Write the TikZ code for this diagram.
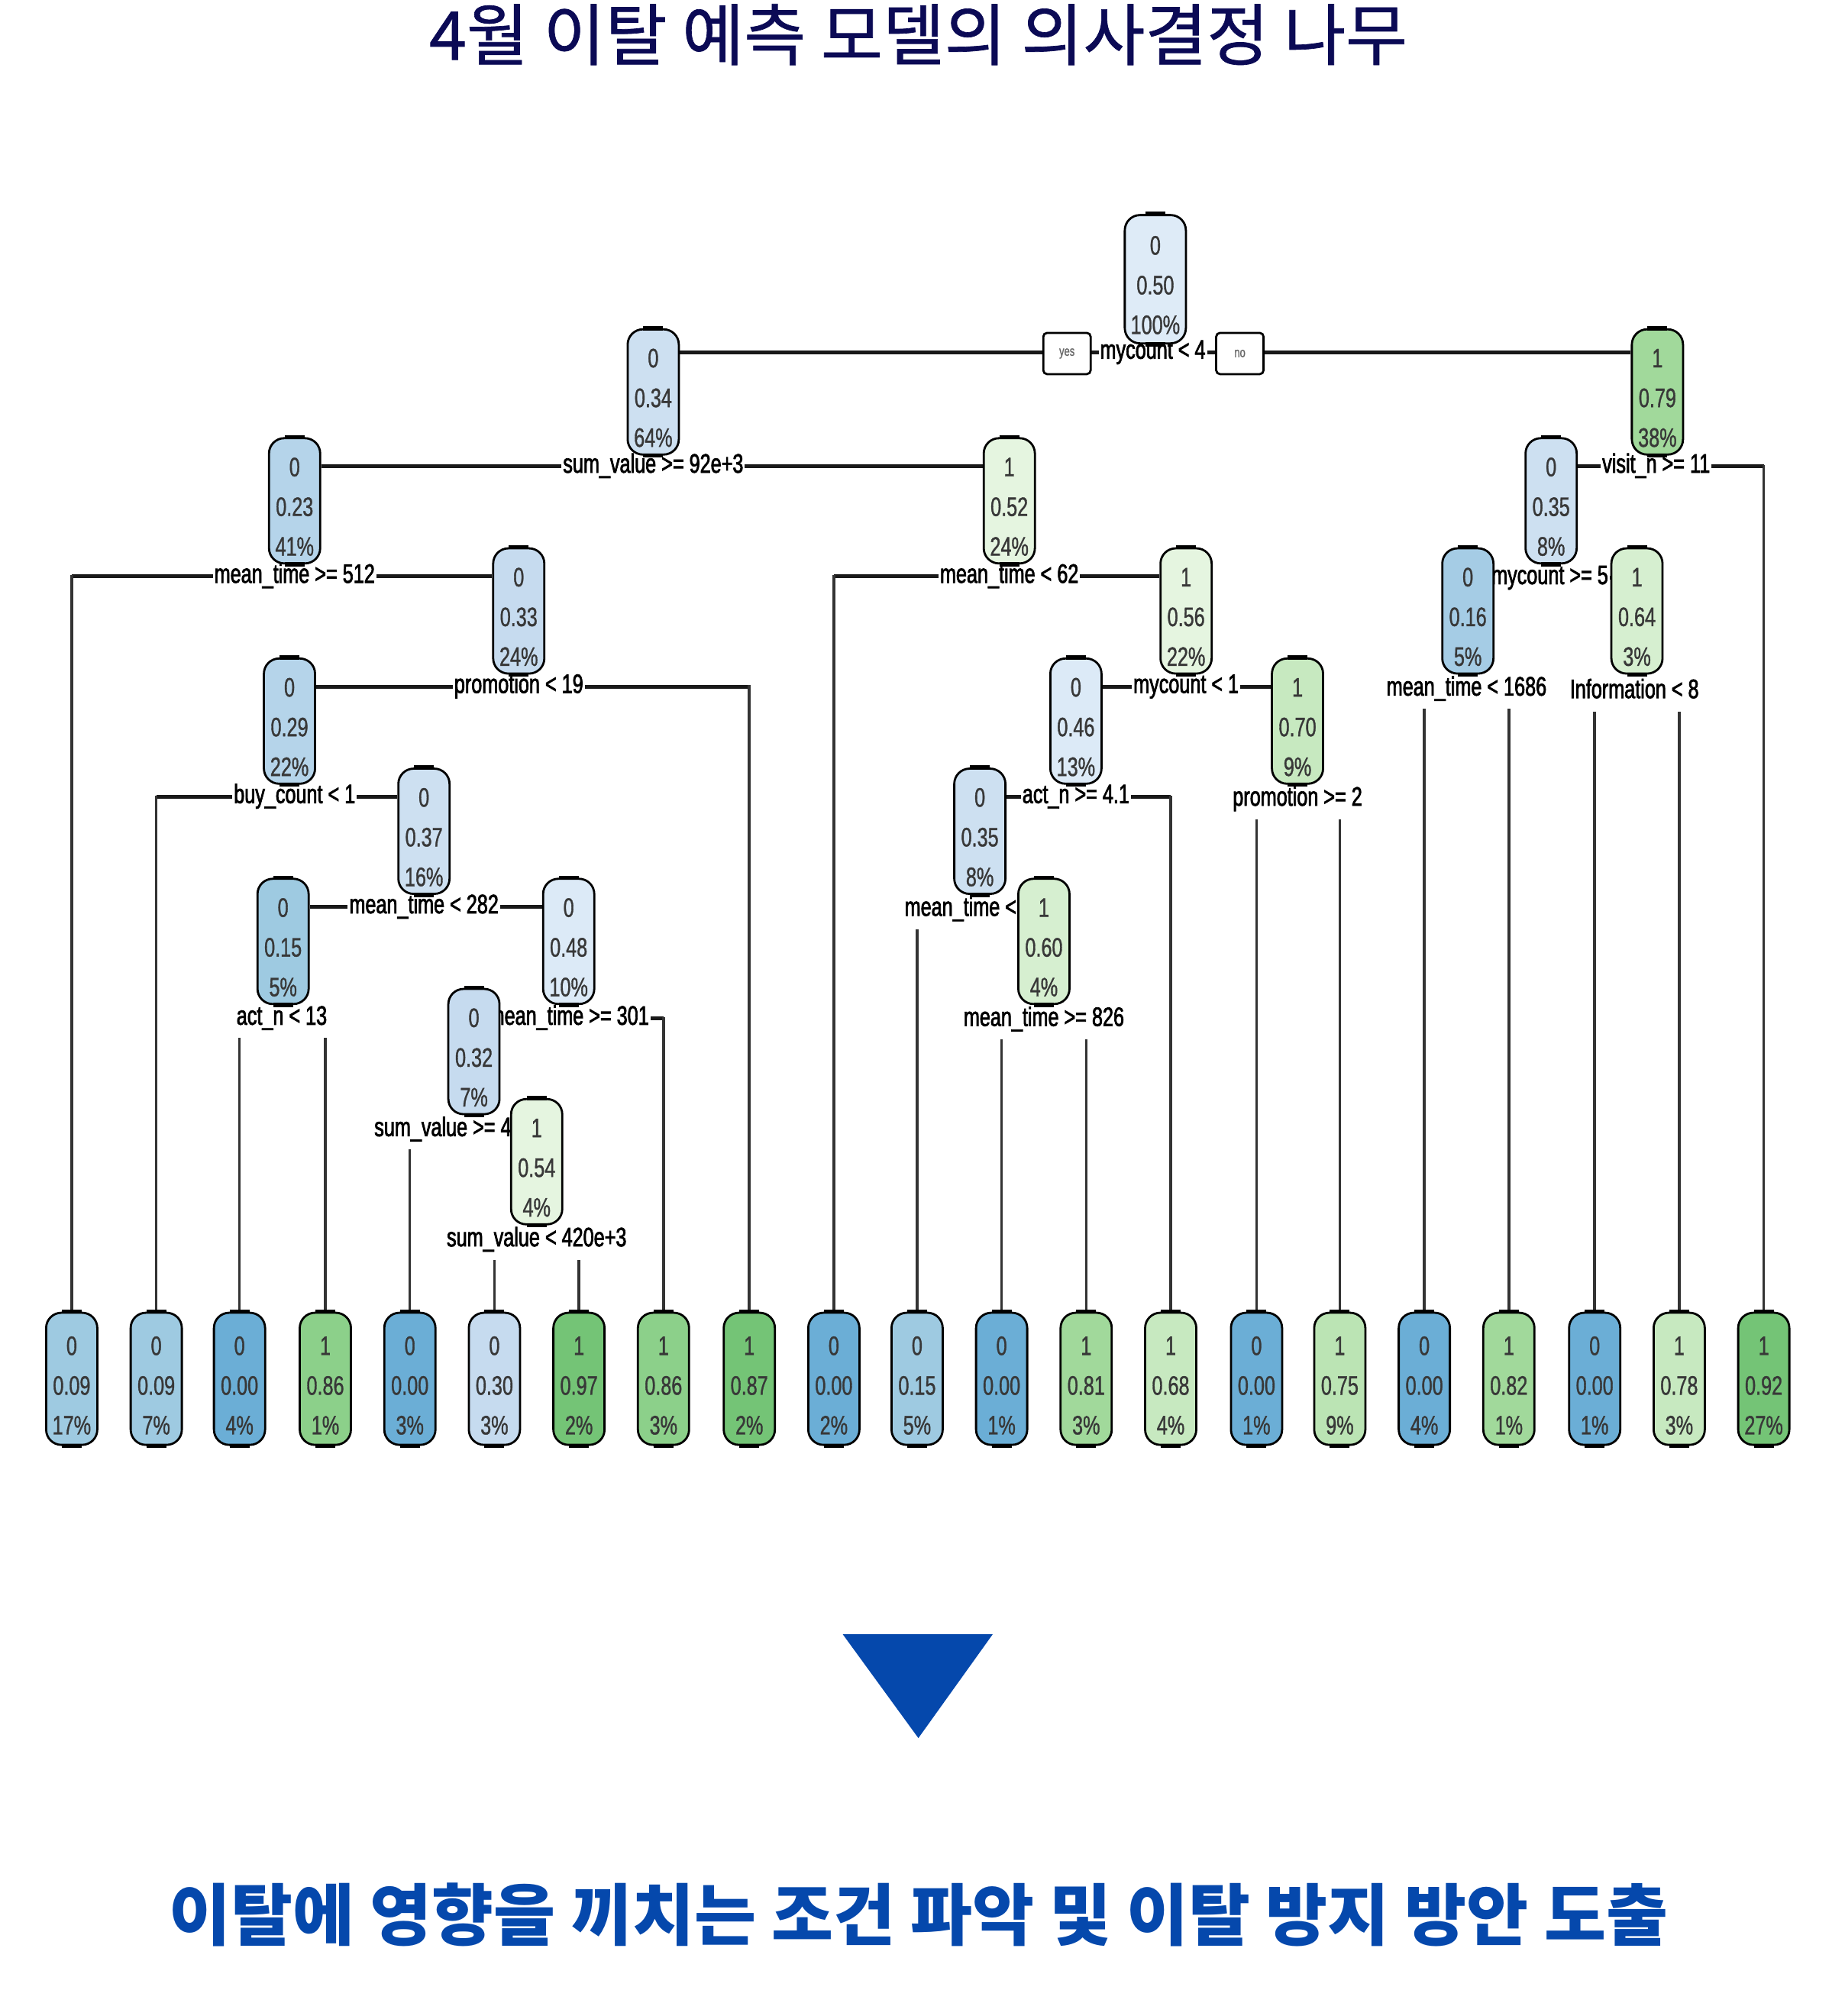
\documentclass[tikz,border=0pt]{standalone}
\usepackage{fontspec}
\setmainfont{Liberation Sans}
\newfontfamily\treefont[FakeStretch=0.72, FakeBold=1]{Liberation Sans}
\newfontfamily\labfont[FakeStretch=0.72, FakeBold=2]{Liberation Sans}
\newfontfamily\krfont[FakeBold=0.8]{Noto Sans CJK KR}
\newfontfamily\krboldfont{Noto Sans CJK KR}
\usetikzlibrary{calc}
\pgfdeclarelayer{background}
\pgfsetlayers{background,main}
\definecolor{c000}{HTML}{6BAED6}
\definecolor{c009}{HTML}{9ECAE1}
\definecolor{c016}{HTML}{A5CCE5}
\definecolor{c023}{HTML}{B5D4EA}
\definecolor{c030}{HTML}{C6DBEF}
\definecolor{c035}{HTML}{CDE0F1}
\definecolor{c048}{HTML}{DCEAF7}
\definecolor{c050}{HTML}{DEEBF7}
\definecolor{c052}{HTML}{E5F5E0}
\definecolor{c060}{HTML}{D6EFD0}
\definecolor{c070}{HTML}{C7E9C0}
\definecolor{c075}{HTML}{BBE4B4}
\definecolor{c080}{HTML}{A1D99B}
\definecolor{c086}{HTML}{8CD08A}
\definecolor{c090}{HTML}{74C476}
\definecolor{titlenavy}{HTML}{0B0A55}
\definecolor{accentblue}{HTML}{0548AC}
\begin{document}
\begin{tikzpicture}[x=1.677pt, y=-1.677pt,
  tn/.style={draw=black, line width=2.8pt, rounded corners=20pt,
    minimum width=67pt, minimum height=164pt, inner sep=0pt, align=center,
    font=\treefont\fontsize{35}{52}\selectfont, text=black!78},
  leafbox/.style={tn, minimum height=173pt},
  lab/.style={fill=white, inner sep=2pt, text=black,
    font=\labfont\fontsize{35}{40}\selectfont, text height=24pt, text depth=7pt},
  ynbox/.style={draw=black, line width=2.8pt, fill=white, rounded corners=5pt,
    minimum width=62pt, minimum height=54pt, inner sep=0pt,
    font=\treefont\fontsize{18}{20}\selectfont, text=black!60},
  hl/.style={line width=5pt, black!90},
  vl/.style={line width=3.5pt, black!80, line cap=rect},
  capline/.style={line width=5.5pt, black}]
\useasboundingbox (0,0) rectangle (1440,1574);

% title and conclusion
\node[font=\krfont\fontsize{88}{100}\selectfont, text=titlenavy] (title) at (717,27) {4월 이탈 예측 모델의 의사결정 나무};
\node[font=\krboldfont\bfseries\fontsize{88}{100}\selectfont, text=accentblue] (concl) at (717,1495) {이탈에 영향을 끼치는 조건 파악 및 이탈 방지 방안 도출};
\fill[accentblue] (658,1276) -- (775,1276) -- (717,1357) -- cycle;

% split labels
\node[lab] (L0) at (900,275) {mycount < 4};
\node[lab] (L34) at (510,364) {sum\_value >= 92e+3};
\node[lab] (L79) at (1293,364) {visit\_n >= 11};
\node[lab] (L23) at (230,450) {mean\_time >= 512};
\node[lab] (L52) at (788,450) {mean\_time < 62};
\node[lab] (L35c) at (1210,451) {mycount >= 5};
\node[lab] (L33) at (405,536) {promotion < 19};
\node[lab] (L56) at (926,536) {mycount < 1};
\node[lab] (L16) at (1145,538) {mean\_time < 1686};
\node[lab] (L64) at (1276,540) {Information < 8};
\node[lab] (L29) at (230,622) {buy\_count < 1};
\node[lab] (L46) at (840,622) {act\_n >= 4.1};
\node[lab] (L70) at (1013,624) {promotion >= 2};
\node[lab] (L37) at (331,708) {mean\_time < 282};
\node[lab, anchor=west] (L35b) at (705,710) {mean\_time <};
\node[lab] (L15) at (220,795) {act\_n < 13};
\node[lab] (L48) at (444,795) {mean\_time >= 301};
\node[lab] (L60) at (815,796) {mean\_time >= 826};
\node[lab, anchor=west] (L32) at (291,882) {sum\_value >= 4};
\node[lab] (L54) at (419,968) {sum\_value < 420e+3};

% yes / no
\node[ynbox] (yes) at (833,276) {yes};
\node[ynbox] (no) at (968,276) {no};

% internal nodes
\node[tn, fill=c050, minimum width=80pt, minimum height=168pt] (n0) at (902,218) {\rule{0pt}{40pt}0\\0.50\\100\%};
\foreach \nm/\x/\y/\c/\a/\p/\q in {
  n34/510/306/c035/0/0.34/64, n79/1294/306/c080/1/0.79/38,
  n23/230/391/c023/0/0.23/41, n52/788/391/c052/1/0.52/24, n35c/1211/391/c035/0/0.35/8,
  n33/405/477/c030/0/0.33/24, n56/926/477/c052/1/0.56/22, n16/1146/477/c016/0/0.16/5, n64/1278/477/c060/1/0.64/3,
  n29/226/563/c023/0/0.29/22, n46/840/563/c048/0/0.46/13, n70/1013/563/c070/1/0.70/9,
  n37/331/649/c035/0/0.37/16, n35b/765/649/c035/0/0.35/8,
  n15/221/735/c009/0/0.15/5, n48/444/735/c048/0/0.48/10, n60/815/735/c060/1/0.60/4,
  n32/370/821/c030/0/0.32/7, n54/419/907/c052/1/0.54/4}
  {\node[tn, fill=\c] (\nm) at (\x,\y) {\rule{0pt}{40pt}\a\\\p\\\q\%};}

% leaves
\foreach \i/\x/\c/\a/\p/\q in {
  1/56/c009/0/0.09/17, 2/122/c009/0/0.09/7, 3/187/c000/0/0.00/4, 4/254/c086/1/0.86/1,
  5/320/c000/0/0.00/3, 6/386/c030/0/0.30/3, 7/452/c090/1/0.97/2, 8/518/c086/1/0.86/3,
  9/585/c090/1/0.87/2, 10/651/c000/0/0.00/2, 11/716/c009/0/0.15/5, 12/782/c000/0/0.00/1,
  13/848/c080/1/0.81/3, 14/914/c070/1/0.68/4, 15/981/c000/0/0.00/1, 16/1046/c075/1/0.75/9,
  17/1112/c000/0/0.00/4, 18/1178/c080/1/0.82/1, 19/1245/c000/0/0.00/1, 20/1311/c070/1/0.78/3,
  21/1377/c090/1/0.92/27}
  {\node[leafbox, fill=\c] (leaf\i) at (\x,1076.5) {\rule{0pt}{42pt}\a\\\p\\\q\%};}

% caps on the boxes
\foreach \nm in {n0,n34,n79,n23,n52,n35c,n33,n56,n16,n64,n29,n46,n70,n37,n35b,n15,n48,n60,n32,n54,
  leaf1,leaf2,leaf3,leaf4,leaf5,leaf6,leaf7,leaf8,leaf9,leaf10,leaf11,leaf12,leaf13,leaf14,leaf15,
  leaf16,leaf17,leaf18,leaf19,leaf20,leaf21}
  {\draw[capline] ([xshift=-13pt]\nm.north) -- ([xshift=13pt]\nm.north);
   \draw[capline] ([xshift=-13pt]\nm.south) -- ([xshift=13pt]\nm.south);}

% connectors
\begin{pgfonlayer}{background}
\draw[hl] (n34.east |- L0) -- (n79.west |- L0);
\draw[hl] (n23.east |- L34) -- (n52.west |- L34);
\draw[hl] (n35c.east |- L79) -- (leaf21.north |- L79);
\draw[vl] (leaf21.north |- L79) -- (leaf21.north);
\draw[hl] (leaf1.north |- L23) -- (n33.west |- L23);
\draw[vl] (leaf1.north |- L23) -- (leaf1.north);
\draw[hl] (leaf10.north |- L52) -- (n56.west |- L52);
\draw[vl] (leaf10.north |- L52) -- (leaf10.north);
\draw[hl] (n16.east |- L35c) -- (n64.west |- L35c);
\draw[hl] (n29.east |- L33) -- (leaf9.north |- L33);
\draw[vl] (leaf9.north |- L33) -- (leaf9.north);
\draw[hl] (n46.east |- L56) -- (n70.west |- L56);
\draw[hl] (leaf2.north |- L29) -- (n37.west |- L29);
\draw[vl] (leaf2.north |- L29) -- (leaf2.north);
\draw[hl] (n35b.east |- L46) -- (leaf14.north |- L46);
\draw[vl] (leaf14.north |- L46) -- (leaf14.north);
\draw[hl] (n15.east |- L37) -- (n48.west |- L37);
\draw[hl] (n32.east |- L48) -- (leaf8.north |- L48);
\draw[vl] (leaf8.north |- L48) -- (leaf8.north);
\draw[hl] (n35b.east |- L35b) -- (n60.west |- L35b);
\draw[hl] (n32.east |- L32) -- (n54.west |- L32);
\foreach \lf/\lb in {leaf17/L16, leaf18/L16, leaf19/L64, leaf20/L64, leaf15/L70, leaf16/L70,
  leaf11/L35b, leaf3/L15, leaf4/L15, leaf12/L60, leaf13/L60, leaf5/L32, leaf6/L54, leaf7/L54}
  {\coordinate (below) at ([yshift=-10pt]\lb.south);
   \draw[vl] (\lf.north |- below) -- (\lf.north);}
\end{pgfonlayer}
\end{tikzpicture}
\end{document}
